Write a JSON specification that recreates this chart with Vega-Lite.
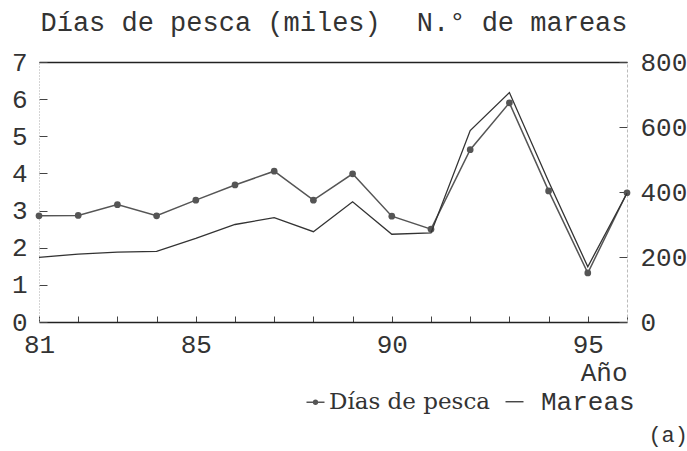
{
  "$schema": "https://vega.github.io/schema/vega-lite/v6.json",
  "width": 588,
  "height": 260,
  "autosize": {"type": "none"},
  "padding": {"left": 39, "top": 62, "right": 60, "bottom": 129},
  "background": "white",
  "config": {
    "font": "Liberation Mono",
    "view": {"stroke": null},
    "axis": {"labelFont": "Liberation Mono", "titleFont": "Liberation Mono", "labelColor": "#333", "titleColor": "#333", "grid": false, "titleFontWeight": "normal", "labelOverlap": false, "labelFlush": false}
  },
  "title": {"text": "(a)", "orient": "bottom", "anchor": "end", "frame": "group", "font": "Liberation Mono", "fontSize": 22, "fontWeight": "normal", "color": "#333", "dx": 61, "dy": 10, "offset": 0},
  "data": {
    "values": [
      {"year": 81, "dias": 2.86, "mareas": 199},
      {"year": 82, "dias": 2.87, "mareas": 209},
      {"year": 83, "dias": 3.16, "mareas": 215},
      {"year": 84, "dias": 2.86, "mareas": 217},
      {"year": 85, "dias": 3.28, "mareas": 257},
      {"year": 86, "dias": 3.69, "mareas": 300},
      {"year": 87, "dias": 4.06, "mareas": 321},
      {"year": 88, "dias": 3.28, "mareas": 278},
      {"year": 89, "dias": 3.99, "mareas": 370},
      {"year": 90, "dias": 2.85, "mareas": 270},
      {"year": 91, "dias": 2.50, "mareas": 274},
      {"year": 92, "dias": 4.64, "mareas": 589},
      {"year": 93, "dias": 5.90, "mareas": 706},
      {"year": 94, "dias": 3.53, "mareas": 432},
      {"year": 95, "dias": 1.32, "mareas": 170},
      {"year": 96, "dias": 3.48, "mareas": 396}
    ]
  },
  "layer": [
    {
      "mark": {"type": "line", "strokeWidth": 1.5, "point": {"filled": true, "size": 45, "opacity": 1}},
      "encoding": {
        "x": {
          "field": "year", "type": "quantitative",
          "scale": {"domain": [81, 96], "nice": false, "zero": false},
          "axis": {
            "orient": "bottom",
            "values": [81, 82, 83, 84, 85, 86, 87, 88, 89, 90, 91, 92, 93, 94, 95, 96],
            "labelExpr": "(datum.value == 81 || datum.value % 5 == 0) ? datum.label : ''",
            "title": "Año", "titleAlign": "right", "titleX": 588, "titleY": 58, "titleBaseline": "alphabetic", "titleFontSize": 26,
            "labelFontSize": 26, "tickSize": -6, "tickColor": "#444", "domainColor": "#222", "domainWidth": 1.5, "labelPadding": 15
          }
        },
        "y": {
          "field": "dias", "type": "quantitative",
          "scale": {"domain": [0, 7], "nice": false},
          "axis": {
            "orient": "left", "values": [0, 1, 2, 3, 4, 5, 6, 7],
            "title": "Días de pesca (miles)", "titleAngle": 0, "titleAlign": "left", "titleX": 1, "titleY": -32, "titleBaseline": "alphabetic", "titleFontSize": 27,
            "labelFontSize": 26, "tickSize": -8, "tickColor": "#444", "labelPadding": 20,
            "domainColor": "#aaa", "domainDash": [1, 2], "domainWidth": 1
          }
        },
        "color": {
          "datum": "Días de pesca",
          "scale": {"domain": ["Días de pesca", "Mareas"], "range": ["#555", "#333"]},
          "legend": {
            "orient": "none", "legendX": 265, "legendY": 328, "direction": "horizontal", "title": null,
            "labelFont": "DejaVu Serif", "labelFontSize": 23, "labelColor": "#333", "labelLimit": 400,
            "symbolSize": 324, "symbolStrokeWidth": 1.3, "labelOffset": 2, "columnPadding": 12,
            "encode": {
              "symbols": {"update": {
                "shape": {"signal": "datum.value === 'Mareas' ? 'M-1,0L1,0' : 'M-1,0L1,0M0.22,0A0.22,0.22,0,1,1,-0.22,0A0.22,0.22,0,1,1,0.22,0Z'"},
                "fill": {"value": "#444"}, "stroke": {"value": "#444"}, "strokeWidth": {"value": 1.3}, "opacity": {"value": 1}
              }},
              "labels": {"update": {
                "font": {"signal": "datum.value === 'Mareas' ? 'Liberation Mono' : 'DejaVu Serif'"},
                "fontSize": {"signal": "datum.value === 'Mareas' ? 26 : 23"},
                "dx": {"signal": "datum.value === 'Mareas' ? 13 : 0"}
              }}
            }
          }
        }
      }
    },
    {
      "mark": {"type": "line", "strokeWidth": 1.3},
      "encoding": {
        "x": {
          "field": "year", "type": "quantitative",
          "axis": {"orient": "top", "labels": false, "ticks": false, "title": null, "domainColor": "#222", "domainWidth": 1.3}
        },
        "y": {
          "field": "mareas", "type": "quantitative",
          "scale": {"domain": [0, 800], "nice": false},
          "axis": {
            "orient": "right", "values": [0, 200, 400, 600, 800],
            "title": "N.° de mareas", "titleAngle": 0, "titleAlign": "right", "titleX": 0, "titleY": -32, "titleBaseline": "alphabetic", "titleFontSize": 27,
            "labelFontSize": 26, "tickSize": -8, "tickColor": "#444", "labelPadding": 21,
            "domainColor": "#bbb", "domainDash": [3, 2], "domainWidth": 1
          }
        },
        "color": {"datum": "Mareas"}
      }
    }
  ],
  "resolve": {"scale": {"y": "independent"}, "axis": {"x": "independent"}}
}
